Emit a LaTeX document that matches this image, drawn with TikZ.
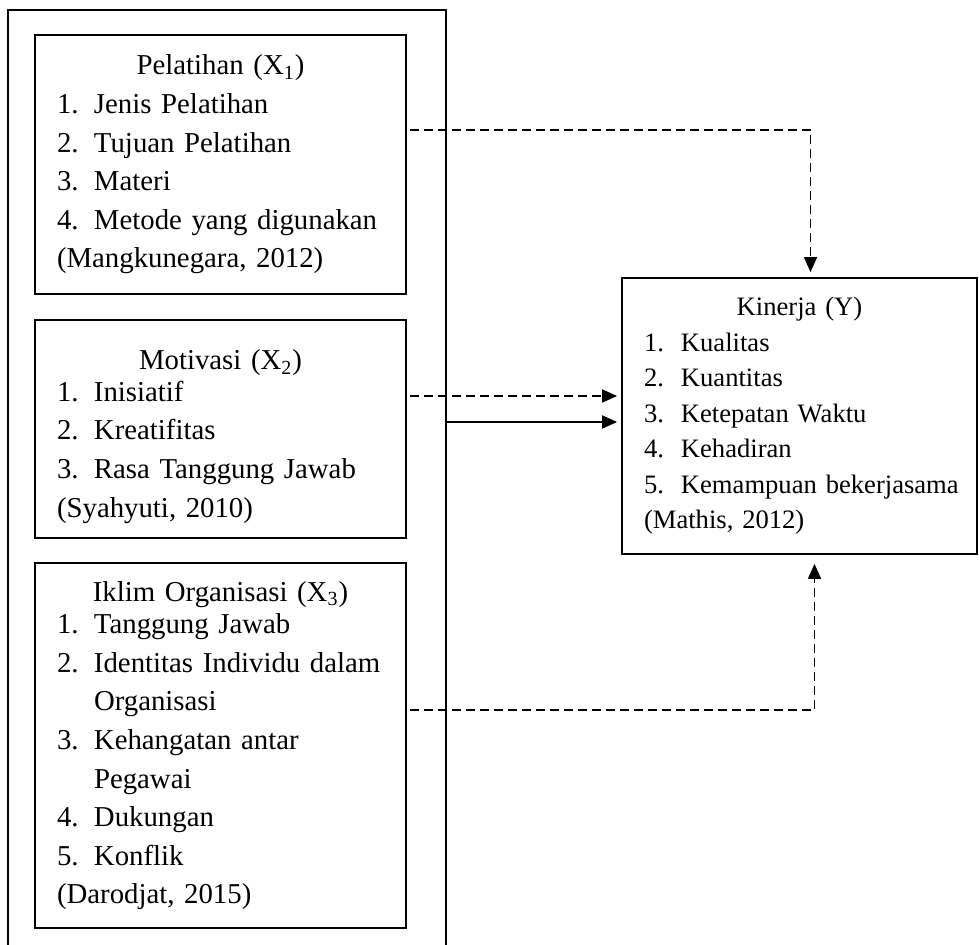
\documentclass[tikz,border=0pt]{standalone}
\usepackage{fontspec}
\setmainfont{Liberation Serif}
\usetikzlibrary{arrows.meta,positioning,calc}
\newcommand{\itm}[1]{\makebox[18.5pt][l]{#1}}
\newcommand{\ttl}[1]{\makebox[\hsize][c]{#1}}

\begin{document}
\begin{tikzpicture}[x=0.5pt,y=-0.5pt,
  varbox/.style={draw,line width=0.9pt,inner xsep=11pt,inner ysep=0pt,align=left,
    text width=163.5pt,font=\fontsize{14.4}{19.3}\selectfont},
  dline/.style={line width=0.9pt,dash pattern=on 4.5pt off 2.5pt,
    -{Triangle[length=7.5pt,width=6.5pt]}},
  sline/.style={line width=0.9pt,-{Triangle[length=7.5pt,width=6.5pt]}},
]
  \useasboundingbox (0,0) rectangle (979,945);

  % frame round the independent variables
  \draw[line width=0.9pt] (8,950) -- (8,10) -- (446,10) -- (446,950);
  \coordinate (frameE) at (446,422);

  \node[varbox,minimum height=129.5pt] (pelatihan) at (220.5,164.5) {%
    \ttl{Pelatihan (X\textsubscript{1})}\\
    \itm{1.}Jenis Pelatihan\\
    \itm{2.}Tujuan Pelatihan\\
    \itm{3.}Materi\\
    \itm{4.}Metode yang digunakan\\
    (Mangkunegara, 2012)};
  \node[varbox,minimum height=109pt] (motivasi) at (220.5,429) {%
    \rule{0pt}{17.5pt}\ttl{Motivasi (X\textsubscript{2})}\\[-3.5pt]
    \itm{1.}Inisiatif\\
    \itm{2.}Kreatifitas\\
    \itm{3.}Rasa Tanggung Jawab\\
    (Syahyuti, 2010)};
  \node[varbox,minimum height=182.5pt] (iklim) at (220.5,745.5) {%
    \ttl{Iklim Organisasi (X\textsubscript{3})}\\[-3pt]
    \itm{1.}Tanggung Jawab\\
    \itm{2.}Identitas Individu dalam\\
    \itm{}Organisasi\\
    \itm{3.}Kehangatan antar\\
    \itm{}Pegawai\\
    \itm{4.}Dukungan\\
    \itm{5.}Konflik\\
    (Darodjat, 2015)};

  \node[varbox,text width=155.5pt,minimum height=138pt,
    font=\fontsize{13.3}{17.75}\selectfont] (kinerja) at (799.5,416) {%
    \ttl{Kinerja (Y)}\\
    \itm{1.}Kualitas\\
    \itm{2.}Kuantitas\\
    \itm{3.}Ketepatan Waktu\\
    \itm{4.}Kehadiran\\
    \itm{5.}\mbox{Kemampuan bekerjasama}\\
    (Mathis, 2012)};

  % partial effects
  \draw[dline,shorten <=1.5pt,shorten >=2.5pt]
    ([yshift=17.25pt]pelatihan.east) -| ([xshift=5.5pt]kinerja.north);
  \draw[dline,shorten <=1.5pt,shorten >=2pt]
    ([yshift=16.5pt]motivasi.east) -- ([yshift=10pt]kinerja.west);
  \draw[dline,shorten <=1.5pt,shorten >=4.5pt]
    ([yshift=17.75pt]iklim.east) -| ([xshift=7.5pt]kinerja.south);

  % simultaneous effect
  \draw[sline,shorten >=2pt] (frameE) -- (frameE -| kinerja.west);
\end{tikzpicture}
\end{document}
